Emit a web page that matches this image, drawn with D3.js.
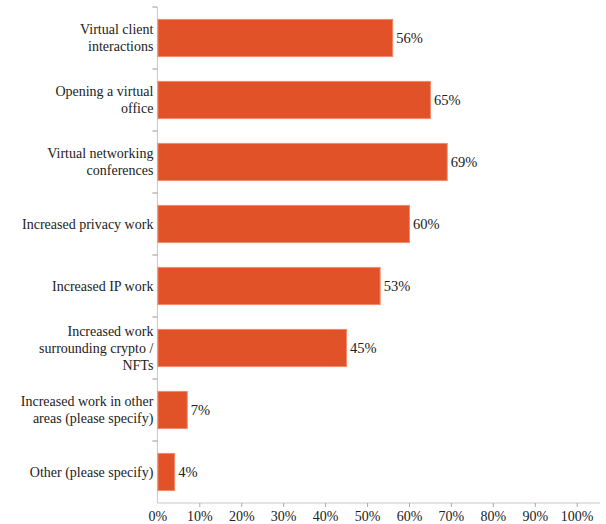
<!DOCTYPE html>
<head>
  <meta charset="utf-8">
  <script src="https://d3js.org/d3.v7.min.js"></script>
  <style>
    body { margin: 0; background: #fff; }
  </style>
</head>
<body>
<div class="container"></div>
<script>
'use strict';
var width = 606, height = 524;
var margin = { top: 7, left: 157.4 };
var FONT = "'Liberation Serif'";
var AXIS_GREY = '#c8c8c8';

// data
var categories = [
  'Virtual client interactions',
  'Opening a virtual office',
  'Virtual networking conferences',
  'Increased privacy work',
  'Increased IP work',
  'Increased work surrounding crypto / NFTs',
  'Increased work in other areas (please specify)',
  'Other (please specify)'
];
var labelLines = [
  ['Virtual client', 'interactions'],
  ['Opening a virtual', 'office'],
  ['Virtual networking', 'conferences'],
  ['Increased privacy work'],
  ['Increased IP work'],
  ['Increased work', 'surrounding crypto /', 'NFTs'],
  ['Increased work in other', 'areas (please specify)'],
  ['Other (please specify)']
];
var values = [56, 65, 69, 60, 53, 45, 7, 4];
var xTicks = [0, 10, 20, 30, 40, 50, 60, 70, 80, 90, 100];

var svg = d3.select('.container').append('svg')
  .attr('width', width).attr('height', height);

var x = d3.scaleLinear().domain([0, 100]).range([margin.left, 576.7]);
var y = d3.scaleBand().domain(categories).range([margin.top, 503]).paddingInner(0.4).paddingOuter(0.2);

// x axis
var xAxis = svg.append('g')
  .attr('transform', 'translate(0,503)')
  .call(d3.axisBottom(x).tickValues(xTicks).tickSize(4).tickSizeOuter(0)
    .tickFormat(function (d) { return d + '%'; }));
xAxis.select('.domain').attr('d', 'M' + margin.left + ',0H' + 600).attr('stroke', AXIS_GREY);
xAxis.selectAll('line').attr('stroke', '#aaa');
xAxis.selectAll('text')
  .attr('y', 8).attr('dy', '0.71em')
  .attr('fill', '#222')
  .style('font-family', FONT).style('font-size', '14px');
xAxis.selectAll('.tick').filter(function (d) { return d === 0; }).select('line').remove();

// y axis (band boundary ticks)
var bounds = d3.range(categories.length).map(function (i) { return margin.top + i * y.step(); });
svg.append('line')
  .attr('x1', margin.left).attr('x2', margin.left)
  .attr('y1', margin.top).attr('y2', 503)
  .attr('stroke', AXIS_GREY);
svg.selectAll('line.ytick').data(bounds).enter().append('line')
  .attr('class', 'ytick')
  .attr('x1', margin.left - 5).attr('x2', margin.left)
  .attr('y1', function (d) { return d; }).attr('y2', function (d) { return d; })
  .attr('stroke', '#999');

// bars
svg.selectAll('rect.bar').data(values).enter().append('rect')
  .attr('class', 'bar')
  .attr('x', x(0) + 0.5)
  .attr('y', function (d, i) { return y(categories[i]); })
  .attr('width', function (d) { return x(d) - x(0); })
  .attr('height', y.bandwidth())
  .attr('fill', '#E25228')
  .attr('stroke', '#F08A6C')
  .attr('stroke-width', 1);

// value labels
svg.selectAll('text.val').data(values).enter().append('text')
  .attr('class', 'val')
  .attr('x', function (d) { return x(d) + 4; })
  .attr('y', function (d, i) { return y(categories[i]) + y.bandwidth() / 2; })
  .attr('dy', '0.35em')
  .attr('fill', '#222')
  .style('font-family', FONT).style('font-size', '14.5px')
  .text(function (d) { return d + '%'; });

// category labels
svg.selectAll('text.cat').data(labelLines).enter().append('text')
  .attr('class', 'cat')
  .attr('text-anchor', 'end')
  .attr('fill', '#222')
  .style('font-family', FONT).style('font-size', '14px')
  .each(function (lines, i) {
    var cy = y(categories[i]) + y.bandwidth() / 2;
    var lh = 17;
    var start = cy - (lines.length - 1) * lh / 2;
    d3.select(this).selectAll('tspan').data(lines).enter().append('tspan')
      .attr('x', margin.left - 4)
      .attr('y', function (d, j) { return start + j * lh; })
      .attr('dy', '0.35em')
      .text(function (d) { return d; });
  });
</script>
</body>
